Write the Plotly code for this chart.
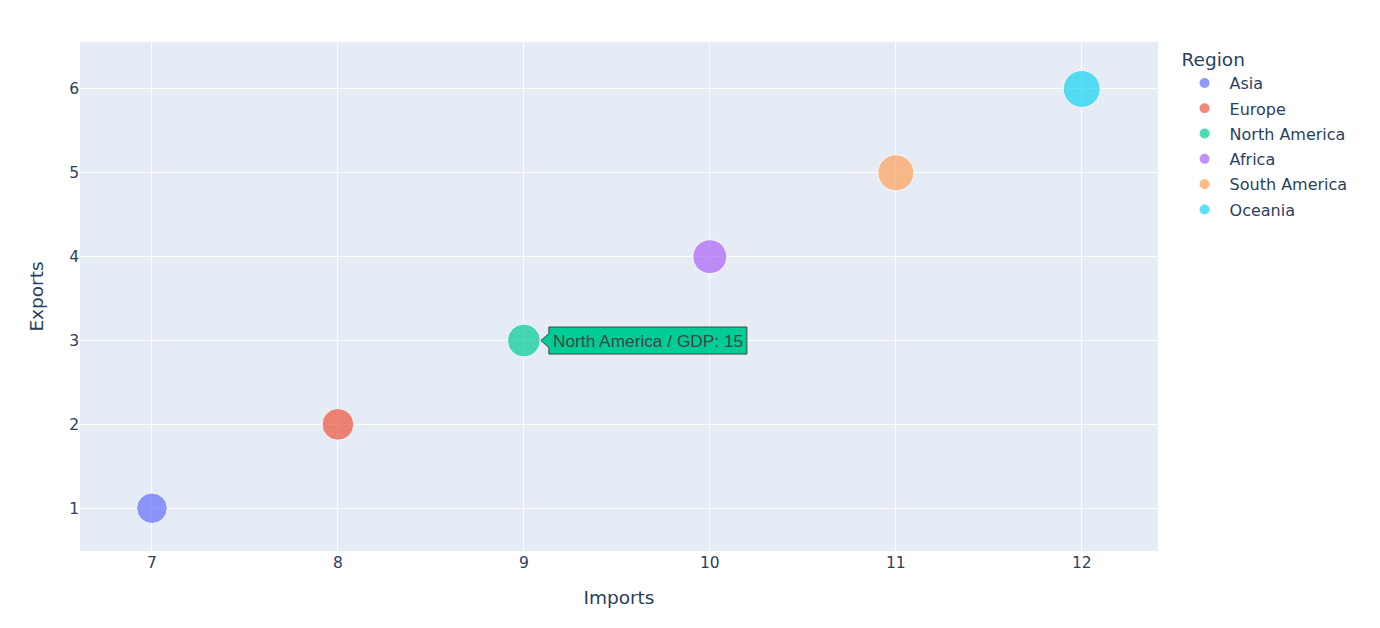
import plotly.graph_objects as go

regions = ["Asia", "Europe", "North America", "Africa", "South America", "Oceania"]
imports = [7, 8, 9, 10, 11, 12]
exports = [1, 2, 3, 4, 5, 6]
gdp = [13, 14, 15, 16, 18, 19]
colors = ["#636efa", "#EF553B", "#00cc96", "#ab63fa", "#FFA15A", "#19d3f3"]

hover_region = "North America"

size_max = 37
sizeref = 2.0 * max(gdp) / size_max ** 2

fig = go.Figure()
for r, xi, yi, g, c in zip(regions, imports, exports, gdp, colors):
    fig.add_trace(go.Scatter(
        x=[xi], y=[yi], mode="markers", name=r, legendgroup=r,
        marker=dict(size=[g], sizemode="area", sizeref=sizeref, color=c,
                    opacity=0.7, line=dict(width=1, color="white")),
        hovertemplate=r + " / GDP: %{marker.size}<extra></extra>",
    ))

# static hover label
i = regions.index(hover_region)
hx, hy, hg, hc = imports[i], exports[i], gdp[i], colors[i]
fig.add_shape(
    type="path", xref="x", yref="y", xsizemode="pixel", ysizemode="pixel",
    xanchor=hx, yanchor=hy,
    path="M17,0 L25,7 L25,13.5 L223,13.5 L223,-13.5 L25,-13.5 L25,-7 Z",
    fillcolor=hc, line=dict(color="#444", width=1), layer="above",
)
fig.add_annotation(
    x=hx, y=hy, xref="x", yref="y", text=f"{hover_region} / GDP: {hg}",
    showarrow=False, xanchor="left", yanchor="middle", xshift=27,
    font=dict(family="Arial, Liberation Sans", size=17.3, color="#444"),
)

fig.update_layout(
    width=1364, height=612,
    template="plotly",
    font=dict(family="Verdana, DejaVu Sans, sans-serif", size=15.5, color="#2a3f5f"),
    margin=dict(l=72, r=214, t=34, b=69),
    legend=dict(title=dict(text="Region", font=dict(size=18.5)),
                font=dict(size=16), traceorder="grouped", tracegroupgap=1.5,
                itemsizing="constant", itemwidth=40),
    xaxis=dict(title=dict(text="Imports", font=dict(size=18.5), standoff=20),
               range=[6.613, 12.41], dtick=1, automargin=False),
    yaxis=dict(title=dict(text="Exports", font=dict(size=18.5), standoff=20),
               range=[0.49, 6.56], dtick=1, automargin=False),
)

fig.write_html("out.html")
